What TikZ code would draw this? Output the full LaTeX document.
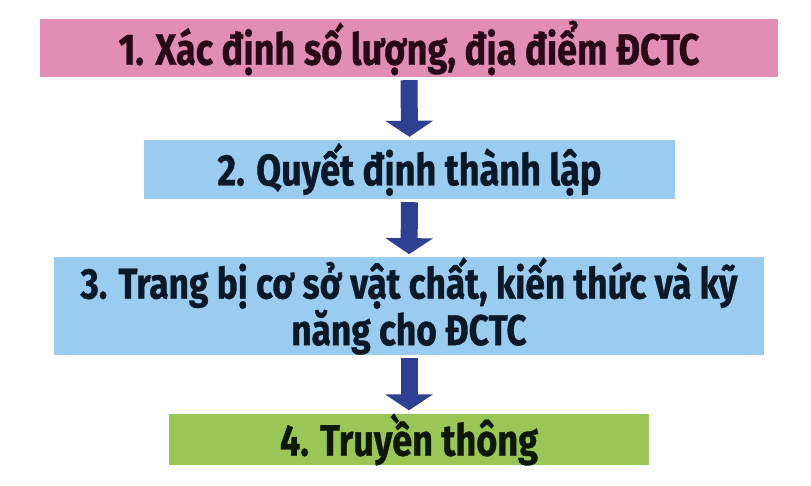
\documentclass[tikz,border=0pt]{standalone}
\usepackage{fontspec}
\newfontfamily\boxfont{Fira Sans}[FakeStretch=0.82, BoldFeatures={FakeBold=0.8}]
\usetikzlibrary{arrows.meta}
\definecolor{pinkbox}{RGB}{225,141,180}
\definecolor{bluebox}{RGB}{153,204,238}
\definecolor{greenbox}{RGB}{153,198,84}
\definecolor{navyarrow}{RGB}{46,64,145}
\definecolor{textpink}{RGB}{40,10,22}
\definecolor{textblue}{RGB}{10,24,40}
\definecolor{textgreen}{RGB}{14,24,6}
\tikzset{
  stepbox/.style={rectangle, inner sep=0pt, align=center, font=\boxfont\bfseries\fontsize{44}{42}\selectfont},
  flowarrow/.style={navyarrow, line width=17pt, shorten <=3pt, shorten >=3pt, -{Triangle[width=47pt,length=16pt]}}
}
\begin{document}
\begin{tikzpicture}[x=1pt,y=-1pt]
\useasboundingbox[fill=white] (0,0) rectangle (811,485);
\node[stepbox, fill=pinkbox, text=textpink, minimum width=738pt, minimum height=58pt] (b1) at (409,48) {1. Xác định số lượng, địa điểm ĐCTC};
\node[stepbox, fill=bluebox, text=textblue, minimum width=531pt, minimum height=59pt] (b2) at (409.5,169.5) {2. Quyết định thành lập};
\node[stepbox, fill=bluebox, text=textblue, minimum width=710pt, minimum height=94pt, font=\boxfont\bfseries\fontsize{43}{42}\selectfont] (b3) at (409,306) {3. Trang bị cơ sở vật chất, kiến thức và kỹ\\năng cho ĐCTC};
\node[stepbox, fill=greenbox, text=textgreen, minimum width=480pt, minimum height=49pt] (b4) at (409,439.5) {4. Truyền thông};
\draw[flowarrow] (b1.south) -- (b2.north);
\draw[flowarrow] (b2.south) -- (b3.north);
\draw[flowarrow] (b3.south) -- (b4.north);
\end{tikzpicture}
\end{document}
